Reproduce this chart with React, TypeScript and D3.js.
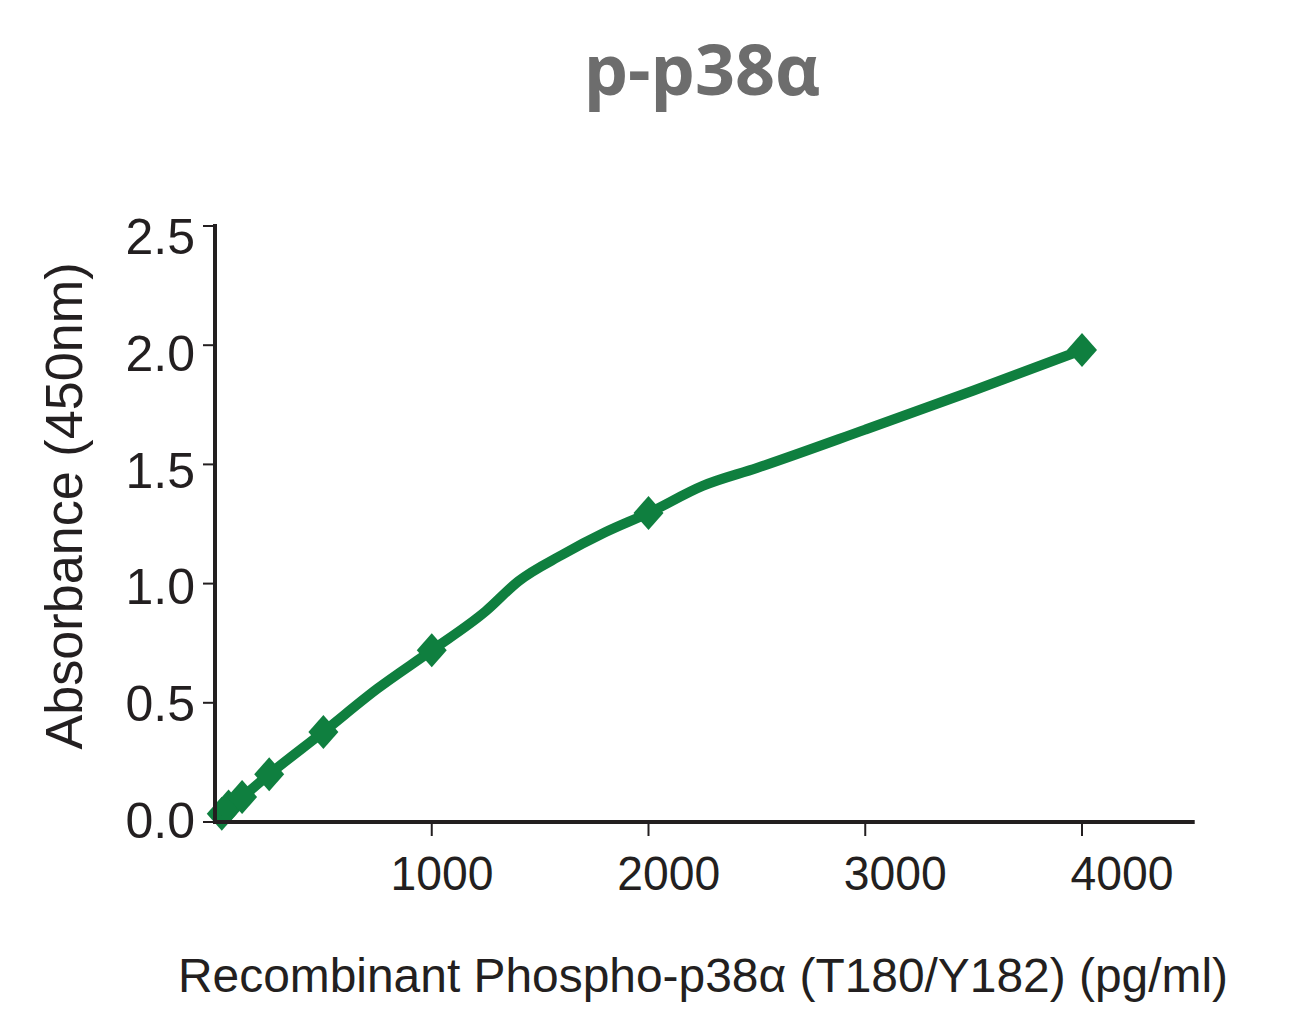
import * as d3 from "d3";

// standard points (diamonds)
const concentrations = [31.25, 62.5, 125, 250, 500, 1000, 2000, 4000];
const absorbance = [0.035, 0.065, 0.105, 0.2, 0.378, 0.72, 1.296, 1.98];

// fitted curve at a few more concentrations
const fitConcentrations = [0, 31.25, 62.5, 125, 250, 500, 750, 1000, 1250, 1400, 1600, 1800, 2000, 2250, 2500, 3000, 3500, 4000];
const fitAbsorbance = [0.01, 0.035, 0.065, 0.105, 0.2, 0.378, 0.56, 0.72, 0.885, 1.01, 1.12, 1.215, 1.296, 1.41, 1.485, 1.646, 1.81, 1.98];

const xTicks = [1000, 2000, 3000, 4000];
const yTicks = [0, 0.5, 1.0, 1.5, 2.0, 2.5];

const title = "p-p38α";
const xTitle = "Recombinant Phospho-p38α (T180/Y182) (pg/ml)";
const yTitle = "Absorbance (450nm)";

const green = "#0f7f3f";
const ink = "#231f20";
const axisFont = "Liberation Sans, Arial, sans-serif";

export default function App() {
    const width = 1292;
    const height = 1013;
    // plot area
    const left = 215;
    const bottom = 822;
    const top = 226;

    const x = d3.scaleLinear().domain([0, 4000]).range([left, 1082]);
    const y = d3.scaleLinear().domain([0, 2.5]).range([bottom, top]);
    const xEnd = x(4520);

    // the tick labels in the original sit on a slightly wider spacing than the ticks
    const xLabel = d3.scaleLinear().domain([1000, 4000]).range([442, 1122]);
    const yLabel = d3.scaleLinear().domain([0, 2.5]).range([820, 236]);

    const points = concentrations.map((c, i) => [c, absorbance[i]] as [number, number]);
    const fit = fitConcentrations.map((c, i) => [c, fitAbsorbance[i]] as [number, number]);

    const line = d3
        .line<[number, number]>()
        .x((d) => x(d[0]))
        .y((d) => y(d[1]))
        .curve(d3.curveMonotoneX);

    // diamond marker
    const diamond = (cx: number, cy: number) => {
        const w = 15, h = 17;
        return `M${cx},${cy - h}L${cx + w},${cy}L${cx},${cy + h}L${cx - w},${cy}Z`;
    };

    return (
        <svg
            width={width}
            height={height}
            style={{ position: "absolute", left: 0, top: 0, background: "#fff" }}
        >
            <text
                x={702}
                y={95}
                textAnchor="middle"
                fontFamily="Open Sans, sans-serif"
                fontWeight={700}
                fontSize={70}
                fill="#6d6d6d"
            >
                {title}
            </text>

            {/* curve + markers */}
            <g>
                <path d={line(fit) || ""} fill="none" stroke={green} strokeWidth={10} strokeLinejoin="round" />
                {points.map((p, i) => (
                    <path key={i} d={diamond(x(p[0]), y(p[1]))} fill={green} />
                ))}
            </g>

            {/* y axis */}
            <g fontFamily={axisFont} fontSize={50} fill={ink}>
                <line x1={left} x2={left} y1={top - 2} y2={bottom + 2} stroke={ink} strokeWidth={4} />
                {yTicks.map((t) => (
                    <g key={t}>
                        <line x1={left - 12} x2={left} y1={y(t)} y2={y(t)} stroke={ink} strokeWidth={2} />
                        <text x={195} y={yLabel(t)} dy="0.36em" textAnchor="end">
                            {t.toFixed(1)}
                        </text>
                    </g>
                ))}
                <text
                    transform={`translate(82,506) rotate(-90)`}
                    textAnchor="middle"
                    fontSize={51}
                    textLength={487}
                    lengthAdjust="spacingAndGlyphs"
                >
                    {yTitle}
                </text>
            </g>

            {/* x axis */}
            <g fontFamily={axisFont} fontSize={49} fill={ink}>
                <line x1={left - 2} x2={xEnd} y1={bottom} y2={bottom} stroke={ink} strokeWidth={4} />
                {xTicks.map((t) => (
                    <g key={t}>
                        <line x1={x(t)} x2={x(t)} y1={bottom} y2={bottom + 14} stroke={ink} strokeWidth={2} />
                        <text x={xLabel(t)} y={890} textAnchor="middle" textLength={103} lengthAdjust="spacingAndGlyphs">
                            {t}
                        </text>
                    </g>
                ))}
                <text x={703} y={992} textAnchor="middle" fontSize={48} textLength={1050} lengthAdjust="spacingAndGlyphs">
                    {xTitle}
                </text>
            </g>
        </svg>
    );
}
